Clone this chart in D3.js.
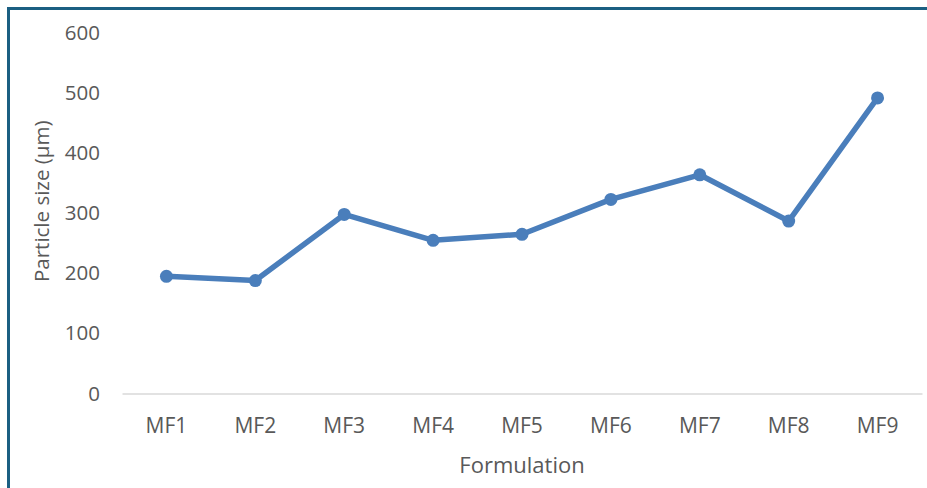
<!DOCTYPE html>
<html>
<head>
<meta charset="utf-8">
<script src="https://cdn.jsdelivr.net/npm/d3@7"></script>
<style>
  html, body { margin: 0; padding: 0; background: #fff; }
  svg { display: block; }
  text { font-family: "Open Sans", "Segoe UI", sans-serif; fill: #595959; }
</style>
</head>
<body>
<svg id="chart" width="927" height="488"></svg>
<script>
// Formulations and their measured particle size (µm)
const categories = ["MF1", "MF2", "MF3", "MF4", "MF5", "MF6", "MF7", "MF8", "MF9"];
const particleSize = [195, 188, 298, 255, 265, 323, 364, 287, 492];
const yTicks = [0, 100, 200, 300, 400, 500, 600];

const svg = d3.select("#chart");
const W = 927, H = 488;

// frame around the chart
svg.append("rect")
  .attr("x", 8.5).attr("y", 8.5)
  .attr("width", W + 20).attr("height", H + 20)
  .attr("fill", "none")
  .attr("stroke", "#1b5f82")
  .attr("stroke-width", 3);

const plot = { left: 122, right: 922, top: 33, bottom: 393.5 };

const x = d3.scaleBand()
  .domain(categories)
  .range([plot.left, plot.right]);

const y = d3.scaleLinear()
  .domain([0, 600])
  .range([plot.bottom, plot.top]);

// y axis labels (no axis line, no gridlines)
const yAxis = svg.append("g")
  .attr("transform", `translate(${plot.left},0)`)
  .call(d3.axisLeft(y).tickValues(yTicks).tickSize(0).tickPadding(22));
yAxis.select(".domain").remove();
yAxis.selectAll("text")
  .style("font-size", "20.5px")
  .attr("fill", "#595959");

// category axis
const xAxis = svg.append("g")
  .attr("transform", `translate(0,${plot.bottom})`)
  .call(d3.axisBottom(x).tickSize(0).tickPadding(25));
xAxis.select(".domain")
  .attr("stroke", "#d9d9d9")
  .attr("stroke-width", 1.5);
xAxis.selectAll("text")
  .style("font-size", "21px")
  .attr("fill", "#595959");

// axis titles
svg.append("text")
  .attr("x", (plot.left + plot.right) / 2)
  .attr("y", 473)
  .attr("text-anchor", "middle")
  .style("font-size", "22px")
  .text("Formulation");

svg.append("text")
  .attr("transform", `translate(49,${(plot.top + plot.bottom) / 2 - 12}) rotate(-90)`)
  .attr("text-anchor", "middle")
  .style("font-size", "20.5px")
  .text("Particle size (µm)");

// series line and markers
const pts = categories.map((c, i) => [x(c) + x.bandwidth() / 2, y(particleSize[i])]);

svg.append("path")
  .datum(pts)
  .attr("d", d3.line())
  .attr("fill", "none")
  .attr("stroke", "#4a7ebb")
  .attr("stroke-width", 5.5)
  .attr("stroke-linejoin", "round")
  .attr("stroke-linecap", "round");

svg.append("g")
  .selectAll("circle")
  .data(pts)
  .join("circle")
  .attr("cx", d => d[0])
  .attr("cy", d => d[1])
  .attr("r", 6.5)
  .attr("fill", "#4a7ebb");
</script>
</body>
</html>
